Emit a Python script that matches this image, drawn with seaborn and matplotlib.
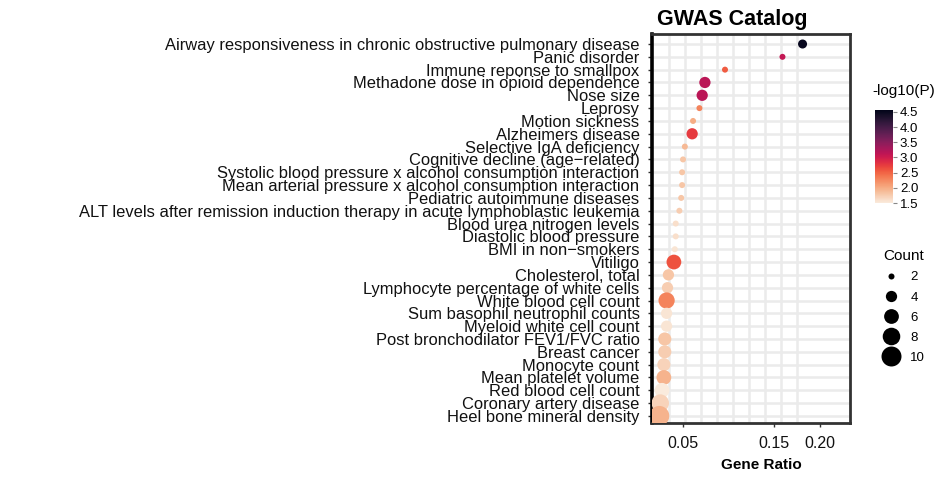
import numpy as np
import pandas as pd
import matplotlib
matplotlib.use("Agg")
import matplotlib.pyplot as plt
from matplotlib.lines import Line2D
from matplotlib.colors import Normalize
from matplotlib.cm import ScalarMappable
import seaborn as sns

terms = [
    "Airway responsiveness in chronic obstructive pulmonary disease",
    "Panic disorder",
    "Immune reponse to smallpox",
    "Methadone dose in opioid dependence",
    "Nose size",
    "Leprosy",
    "Motion sickness",
    "Alzheimers disease",
    "Selective IgA deficiency",
    "Cognitive decline (age\u2212related)",
    "Systolic blood pressure x alcohol consumption interaction",
    "Mean arterial pressure x alcohol consumption interaction",
    "Pediatric autoimmune diseases",
    "ALT levels after remission induction therapy in acute lymphoblastic leukemia",
    "Blood urea nitrogen levels",
    "Diastolic blood pressure",
    "BMI in non\u2212smokers",
    "Vitiligo",
    "Cholesterol, total",
    "Lymphocyte percentage of white cells",
    "White blood cell count",
    "Sum basophil neutrophil counts",
    "Myeloid white cell count",
    "Post bronchodilator FEV1/FVC ratio",
    "Breast cancer",
    "Monocyte count",
    "Mean platelet volume",
    "Red blood cell count",
    "Coronary artery disease",
    "Heel bone mineral density",
]
gene_ratio = [0.181, 0.159, 0.096, 0.074, 0.071, 0.068, 0.061, 0.060, 0.052, 0.050,
              0.049, 0.049, 0.048, 0.046, 0.042, 0.042, 0.041, 0.040, 0.034, 0.033,
              0.032, 0.032, 0.032, 0.030, 0.030, 0.029, 0.029, 0.027, 0.025, 0.024]
counts = [3, 2, 2, 4, 4, 2, 2, 4, 2, 2,
          2, 2, 2, 2, 2, 2, 2, 6, 4, 4,
          7, 4, 4, 5, 5, 5, 6, 6, 8, 10]
neglog10p = [4.5, 3.1, 2.55, 3.15, 3.15, 2.3, 2.0, 2.75, 1.9, 1.8,
             1.8, 1.8, 1.8, 1.75, 1.6, 1.6, 1.55, 2.6, 1.8, 1.75,
             2.3, 1.55, 1.55, 1.8, 1.75, 1.7, 1.95, 1.5, 1.7, 1.95]
x_ticks = [0.05, 0.15, 0.20]
x_tick_labels = ["0.05", "0.15", "0.20"]
count_legend = [2, 4, 6, 8, 10]
cbar_ticks = [1.5, 2.0, 2.5, 3.0, 3.5, 4.0, 4.5]

df = pd.DataFrame({"term": terms, "ratio": gene_ratio, "count": counts, "logp": neglog10p})

plt.rcParams["font.family"] = ["Liberation Sans", "DejaVu Sans"]

fig = plt.figure(figsize=(9.47, 4.79), dpi=100)
W, H = 947, 479
ax = fig.add_axes([652 / W, 1 - 423 / H, 198 / W, 389 / H])

vmin, vmax = 1.5, 4.56
smin, smax = 18.7, 207.0
cmap = sns.color_palette("rocket_r", as_cmap=True)

sns.scatterplot(data=df, x="ratio", y="term", hue="logp", size="count",
                palette=cmap, hue_norm=(vmin, vmax), sizes=(smin, smax),
                size_norm=(2, 10), legend=False, ax=ax, linewidth=0, zorder=3,
                clip_on=True)

ax.set_xlim(0.016, 0.233)
ax.set_ylim(len(terms) - 1 + 0.55, -0.78)

# grid
grid_x = [0.035, 0.0525, 0.07, 0.0875, 0.105, 0.1225, 0.14, 0.1575, 0.175, 0.20]
ax.set_xticks(grid_x, minor=True)
ax.set_xticks(x_ticks)
ax.set_xticklabels(x_tick_labels)
ax.set_axisbelow(True)
ax.grid(which="minor", axis="x", color="#ebebeb", lw=1.8, zorder=0)
ax.grid(which="major", axis="y", color="#ebebeb", lw=1.8, zorder=0)
ax.grid(which="major", axis="x", visible=False)

ax.tick_params(axis="x", which="minor", length=0)
ax.tick_params(axis="x", which="major", length=3, width=1, color="#333333",
               labelsize=11.5, pad=6, labelcolor="#111111")
ax.tick_params(axis="y", length=3, width=1, color="#333333", labelsize=11.9,
               pad=6, labelcolor="#111111")

for s in ["top", "right", "bottom"]:
    ax.spines[s].set_color("#333333")
    ax.spines[s].set_linewidth(2)
ax.spines["left"].set_color("black")
ax.spines["left"].set_linewidth(2.6)

ax.set_ylabel("")
ax.set_xlabel("Gene Ratio", fontsize=11, fontweight="bold")
ax.xaxis.set_label_coords((761 - 652) / 198, (423 - 458) / 389)

fig.text(732 / W, 1 - 19 / H, "GWAS Catalog", ha="center", va="center",
         fontsize=15.5, fontweight="bold")

# colorbar
cax = fig.add_axes([875 / W, 1 - 203 / H, 18 / W, 93 / H])
sm = ScalarMappable(norm=Normalize(vmin, vmax), cmap=cmap)
cb = fig.colorbar(sm, cax=cax, ticks=cbar_ticks)
cb.outline.set_visible(False)
cb.ax.tick_params(length=3, width=0.8, color="#888888", labelsize=9.5, pad=2)
fig.text(872 / W, 1 - 91 / H, "-log10(P)", ha="left", va="center", fontsize=11)

# size legend
handles = []
for c in count_legend:
    s = smin + (c - 2) / 8 * (smax - smin)
    handles.append(Line2D([], [], marker="o", ls="", color="black",
                          markeredgewidth=0, markersize=np.sqrt(s)))
leg = fig.legend(handles, [str(c) for c in count_legend], title="Count",
                 loc="upper left", bbox_to_anchor=(872 / W, 1 - 240 / H),
                 frameon=False, fontsize=9.5, title_fontsize=11,
                 labelspacing=0.6, handletextpad=0.7, borderpad=0.2,
                 handlelength=1.5)
leg._legend_box.align = "center"

fig.savefig("out.png", dpi=100)
